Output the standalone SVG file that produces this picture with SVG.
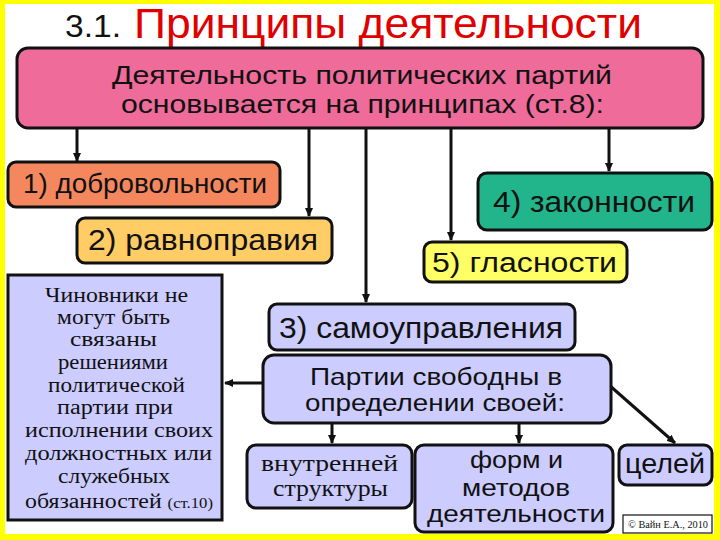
<svg xmlns="http://www.w3.org/2000/svg" width="720" height="540" viewBox="0 0 720 540">
<style>
.box{stroke:#111;stroke-width:3}
.sans{font-family:"Liberation Sans",Arial,sans-serif;fill:#111}
.serif{font-family:"Liberation Serif","Times New Roman",serif;fill:#111}
.con{stroke:#111;stroke-width:3;fill:none;marker-end:url(#ah)}
.lav{fill:#CCCCFF}
</style>
<defs>
<marker id="ah" markerWidth="10" markerHeight="10" refX="8" refY="5" orient="auto" markerUnits="userSpaceOnUse">
<path d="M0,1 L9,5 L0,9 Z" fill="#111"/>
</marker>
</defs>
<rect x="0" y="0" width="720" height="540" fill="#FFFF00"/>
<rect x="5" y="4" width="709" height="530" fill="#FFFFFF"/>
<g id="title">
<text x="65" y="37" class="sans" font-size="31" textLength="56" lengthAdjust="spacingAndGlyphs">3.1.</text>
<text x="134" y="38" font-family="'Liberation Sans',Arial,sans-serif" font-size="43" fill="#E00000" textLength="508" lengthAdjust="spacingAndGlyphs">Принципы деятельности</text>
</g>
<g id="connectors">
<line x1="77" y1="128" x2="77" y2="161" class="con"/>
<line x1="309" y1="128" x2="309" y2="216" class="con"/>
<line x1="366" y1="128" x2="366" y2="302" class="con"/>
<line x1="451" y1="128" x2="451" y2="240" class="con"/>
<line x1="609" y1="128" x2="609" y2="171" class="con"/>
<line x1="263" y1="383" x2="225" y2="383" class="con"/>
<line x1="332" y1="423" x2="332" y2="443" class="con"/>
<line x1="519" y1="423" x2="519" y2="443" class="con"/>
<line x1="609" y1="385" x2="675" y2="443" class="con"/>
</g>
<g id="main">
<rect x="17" y="48" width="686" height="80" rx="11" fill="#EE6B9A" class="box"/>
<text x="112" y="84" class="sans" font-size="26" textLength="500" lengthAdjust="spacingAndGlyphs">Деятельность политических партий</text>
<text x="121" y="113" class="sans" font-size="26" textLength="483" lengthAdjust="spacingAndGlyphs">основывается на принципах (ст.8):</text>
</g>
<g id="p1">
<rect x="8" y="162" width="272" height="45" rx="8" fill="#F4875D" class="box"/>
<text x="23" y="193" class="sans" font-size="27" textLength="244" lengthAdjust="spacingAndGlyphs">1) добровольности</text>
</g>
<g id="p2">
<rect x="77" y="218" width="255" height="45" rx="8" fill="#FFCC66" class="box"/>
<text x="88" y="250" class="sans" font-size="29" textLength="230" lengthAdjust="spacingAndGlyphs">2) равноправия</text>
</g>
<g id="p4">
<rect x="478" y="173" width="234" height="57" rx="9" fill="#22B48A" class="box"/>
<text x="493" y="212" class="sans" font-size="29" textLength="202" lengthAdjust="spacingAndGlyphs">4) законности</text>
</g>
<g id="p5">
<rect x="424" y="242" width="203" height="40" rx="8" fill="#FFFF66" class="box"/>
<text x="432" y="272" class="sans" font-size="27" textLength="185" lengthAdjust="spacingAndGlyphs">5) гласности</text>
</g>
<g id="officials">
<rect x="8" y="275" width="214" height="245" class="box lav"/>
<g class="serif" font-size="20">
<text x="45" y="302" textLength="143" lengthAdjust="spacingAndGlyphs">Чиновники не</text>
<text x="57" y="324" textLength="113" lengthAdjust="spacingAndGlyphs">могут быть</text>
<text x="70" y="346" textLength="87" lengthAdjust="spacingAndGlyphs">связаны</text>
<text x="58" y="369" textLength="110" lengthAdjust="spacingAndGlyphs">решениями</text>
<text x="48" y="392" textLength="137" lengthAdjust="spacingAndGlyphs">политической</text>
<text x="57" y="414" textLength="116" lengthAdjust="spacingAndGlyphs">партии при</text>
<text x="25" y="437" textLength="188" lengthAdjust="spacingAndGlyphs">исполнении своих</text>
<text x="25" y="460" textLength="187" lengthAdjust="spacingAndGlyphs">должностных или</text>
<text x="58" y="483" textLength="112" lengthAdjust="spacingAndGlyphs">служебных</text>
<text x="25" y="508" textLength="188" lengthAdjust="spacingAndGlyphs">обязанностей <tspan font-size="14">(ст.10)</tspan></text>
</g>
</g>
<g id="p3">
<rect x="269" y="304" width="306" height="46" rx="8" class="box lav"/>
<text x="279" y="338" class="sans" font-size="29" textLength="284" lengthAdjust="spacingAndGlyphs">3) самоуправления</text>
</g>
<g id="free">
<rect x="263" y="355" width="348" height="68" rx="11" class="box lav"/>
<text x="310" y="385" class="sans" font-size="24" textLength="252" lengthAdjust="spacingAndGlyphs">Партии свободны в</text>
<text x="305" y="411" class="sans" font-size="24" textLength="260" lengthAdjust="spacingAndGlyphs">определении своей:</text>
</g>
<g id="structure">
<rect x="247" y="445" width="165" height="63" rx="9" class="box lav"/>
<text x="261" y="471" class="serif" font-size="24" textLength="137" lengthAdjust="spacingAndGlyphs">внутренней</text>
<text x="273" y="496" class="serif" font-size="24" textLength="115" lengthAdjust="spacingAndGlyphs">структуры</text>
</g>
<g id="forms">
<rect x="415" y="445" width="198" height="87" rx="9" class="box lav"/>
<text x="470" y="468" class="sans" font-size="24" textLength="93" lengthAdjust="spacingAndGlyphs">форм и</text>
<text x="462" y="496" class="sans" font-size="24" textLength="108" lengthAdjust="spacingAndGlyphs">методов</text>
<text x="427" y="522" class="sans" font-size="24" textLength="178" lengthAdjust="spacingAndGlyphs">деятельности</text>
</g>
<g id="goals">
<rect x="619" y="445" width="93" height="40" rx="8" class="box lav"/>
<text x="625" y="473" class="sans" font-size="27" textLength="80" lengthAdjust="spacingAndGlyphs">целей</text>
</g>
<g id="copyright">
<rect x="623" y="515" width="89" height="18" fill="#FFFFFF" stroke="#111" stroke-width="1.2"/>
<text x="628" y="528" class="serif" font-size="10" textLength="80" lengthAdjust="spacingAndGlyphs">© Вайн Е.А., 2010</text>
</g>
</svg>
